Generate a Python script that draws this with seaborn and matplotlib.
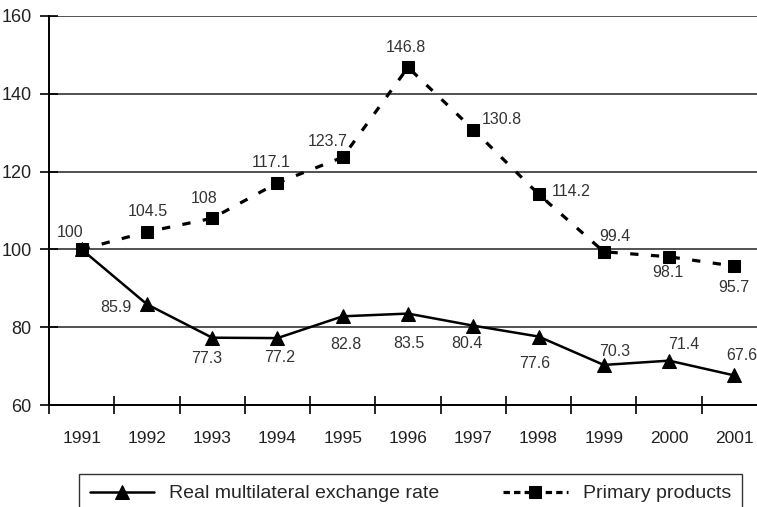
import numpy as np
import pandas as pd
import matplotlib
matplotlib.use("Agg")
import matplotlib.pyplot as plt
import seaborn as sns

# Datos
years = ['1991', '1992', '1993', '1994', '1995', '1996',
         '1997', '1998', '1999', '2000', '2001']
real_rate = [100, 85.9, 77.3, 77.2, 82.8, 83.5, 80.4, 77.6, 70.3, 71.4, 67.6]
primary = [100, 104.5, 108, 117.1, 123.7, 146.8, 130.8, 114.2, 99.4, 98.1, 95.7]
real_name = 'Real multilateral exchange rate'
primary_name = 'Primary products'

# desplazamiento de etiquetas (pixeles)
off_primary = [(-12, 17), (1, 20), (-8, 20), (-6, 20), (-15, 16), (-2, 20),
               (29, 10), (33, 3), (11, 15), (-1, -16), (-1, -21)]
off_real = [None, (-31, -3), (-5, -21), (2, -19), (3, -28), (1, -30),
            (-6, -18), (-4, -27), (11, 13), (15, 16), (7, 20)]

sns.set_theme(style='white')
plt.rcParams['font.family'] = ['Liberation Sans', 'DejaVu Sans']

df = pd.DataFrame({'pos': np.arange(len(years)),
                   'year': years,
                   'real': real_rate,
                   'primary': primary})

fig = plt.figure(figsize=(7.57, 5.07), dpi=100)
ax = fig.add_axes([49 / 757, 102 / 507, 718 / 757, 389 / 507])

sns.lineplot(data=df, x='pos', y='real', ax=ax, color='black', lw=1.8,
             marker='^', markersize=10, markeredgecolor='black',
             label=real_name, zorder=4)
sns.lineplot(data=df, x='pos', y='primary', ax=ax, color='black', lw=2.3,
             marker='s', markersize=8.5, markeredgecolor='black',
             label=primary_name, zorder=4)
ax.lines[1].set_dashes([2.6, 3.9])

# etiquetas de valores
for i, v in enumerate(primary):
    dx, dy = off_primary[i]
    ax.annotate(f'{v:g}', (i, v), xytext=(dx, dy), textcoords='offset pixels',
                ha='center', va='center', fontsize=11.5, color='#333333')
for i, v in enumerate(real_rate):
    if off_real[i] is None:
        continue
    dx, dy = off_real[i]
    ax.annotate(f'{v:g}', (i, v), xytext=(dx, dy), textcoords='offset pixels',
                ha='center', va='center', fontsize=11.5, color='#333333')

ax.set_xlim(-0.5, len(years) - 0.5)
ax.set_ylim(60, 160)
ax.set_yticks(np.arange(60, 161, 20))
ax.set_xticks(df['pos'])
ax.set_xticklabels(years)
ax.set_xticks(np.arange(-0.5, len(years), 1), minor=True)
ax.tick_params(axis='x', which='major', length=0, pad=19, labelsize=12.5,
               labelcolor='#222222')
ax.tick_params(axis='x', which='minor', direction='inout', length=13,
               width=1.2, color='black', bottom=True)
ax.tick_params(axis='y', direction='inout', length=13, width=1.2,
               color='black', left=True, labelsize=13, labelcolor='#222222',
               pad=6)
ax.set_xlabel('')
ax.set_ylabel('')
ax.yaxis.grid(True, color='#333333', lw=1.2)
ax.xaxis.grid(False)
for s in ['top', 'right']:
    ax.spines[s].set_visible(False)
for s in ['left', 'bottom']:
    ax.spines[s].set_color('black')
    ax.spines[s].set_linewidth(1.4)

handles, labels = ax.get_legend_handles_labels()
ax.get_legend().remove()
leg = fig.legend(handles, labels, loc='upper left', ncol=2, mode='expand',
                 bbox_to_anchor=(79 / 757, -0.1, 663 / 757, 0.1 + 33 / 507),
                 fontsize=14, frameon=True, fancybox=False, handlelength=3.3,
                 borderpad=0.55, handletextpad=0.8, borderaxespad=0)
leg.get_frame().set_edgecolor('black')
leg.get_frame().set_linewidth(1.0)
leg.get_lines()[1].set_dashes([2.0, 1.3])

fig.savefig('out.png', dpi=100)
